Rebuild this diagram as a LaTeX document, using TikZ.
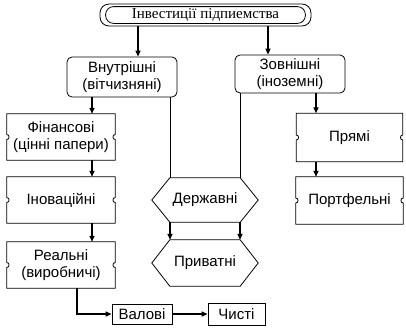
\documentclass[tikz,border=0pt]{standalone}
\usepackage{fontspec}
\setmainfont{Liberation Sans}
\newfontfamily\serifx{Liberation Serif}
\usetikzlibrary{arrows.meta,calc}
\tikzset{
  boxline/.style={line width=0.8pt},
  conn/.style={line width=1.6pt,-{Triangle[length=6pt,width=5pt]}},
  thinl/.style={line width=0.8pt},
  lbl/.style={inner sep=0pt,align=center,font=\fontsize{15}{17.5}\selectfont},
}
\newcommand\notchbox[1]{%
  \draw[boxline] (#1.north west) -- (#1.north east) -- ($(#1.east)+(0,-2.5)$)
    .. controls +(-3,0) and +(-3,0) .. ($(#1.east)+(0,2.5)$) -- (#1.south east)
    -- (#1.south west) -- ($(#1.west)+(0,2.5)$)
    .. controls +(3,0) and +(3,0) .. ($(#1.west)+(0,-2.5)$) -- cycle;}
\newcommand\hexbox[1]{%
  \draw[boxline] (#1.west) -- ($(#1.north west)+(18,0)$) -- ($(#1.north east)+(-18,0)$)
    -- (#1.east) -- ($(#1.south east)+(-18,0)$) -- ($(#1.south west)+(18,0)$) -- cycle;}
\begin{document}
\begin{tikzpicture}[x=1pt,y=-1pt]
\useasboundingbox (0,0) rectangle (406,330);
\fill[white] (0,0) rectangle (406,330);
% top
\node[lbl,draw,boxline,rounded corners=9,minimum width=211,minimum height=22,font=\serifx\fontsize{15}{17}\selectfont] (top) at (205.5,15) {Інвестиції підпиемства};
\draw[boxline,rounded corners=8] ($(top.north west)+(6,3)$) rectangle ($(top.south east)+(-6,-3)$);
% second level
\node[lbl,draw,boxline,rounded corners=5,minimum width=110,minimum height=40] (vn) at (122,77) {Внутрішні\\(вітчизняні)};
\node[lbl,draw,boxline,rounded corners=5,minimum width=110,minimum height=38] (zn) at (290,74) {Зовнішні\\(іноземні)};
% left column
\node[lbl,minimum width=108,minimum height=46] (fin) at (61,137) {Фінансові\\(цінні папери)};
\node[lbl,minimum width=108,minimum height=46] (inn) at (61,200) {Іноваційні};
\node[lbl,minimum width=108,minimum height=46] (real) at (61,265) {Реальні\\(виробничі)};
\notchbox{fin}\notchbox{inn}\notchbox{real}
% right column
\node[lbl,minimum width=106,minimum height=48] (pr) at (349.5,137.5) {Прямі};
\node[lbl,minimum width=107,minimum height=47] (port) at (349.5,200.5) {Портфельні};
\notchbox{pr}\notchbox{port}
% hexagons
\node[lbl,minimum width=106,minimum height=44] (der) at (205,200) {Державні};
\node[lbl,minimum width=106,minimum height=46] (priv) at (205,263) {Приватні};
\hexbox{der}\hexbox{priv}
% bottom
\node[lbl,draw,boxline,minimum width=60,minimum height=20] (val) at (142,314) {Валові};
\node[lbl,draw,boxline,minimum width=57,minimum height=22] (chy) at (236.5,314) {Чисті};
% column coordinates
\coordinate (c138) at (138,0);
\coordinate (c268) at (268,0);
\coordinate (c92) at (92,0);
\coordinate (c316) at (316,0);
\coordinate (c170) at (170,0);
\coordinate (c240) at (240,0);
\coordinate (c77) at (77,0);
% connectors
\draw[conn] (top.south -| c138) -- (vn.north -| c138);
\draw[conn] (top.south -| c268) -- (zn.north -| c268);
\draw[conn] (vn.south -| c92) -- (fin.north -| c92);
\draw[conn] (fin.south -| c92) -- (inn.north -| c92);
\draw[conn] (inn.south -| c92) -- (real.north -| c92);
\draw[conn] (zn.south -| c316) -- (pr.north -| c316);
\draw[conn] (pr.south -| c316) -- (port.north -| c316);
\draw[thinl] (vn.south -| c170) -- (der.north -| c170);
\draw[thinl] (zn.south -| c240) -- (der.north -| c240);
\draw[conn] (der.south -| c170) -- (priv.north -| c170);
\draw[conn] (der.south -| c240) -- (priv.north -| c240);
\draw[conn] (real.south -| c77) |- (val.west);
\draw[conn] (val.east) -- (chy.west);
\end{tikzpicture}
\end{document}
